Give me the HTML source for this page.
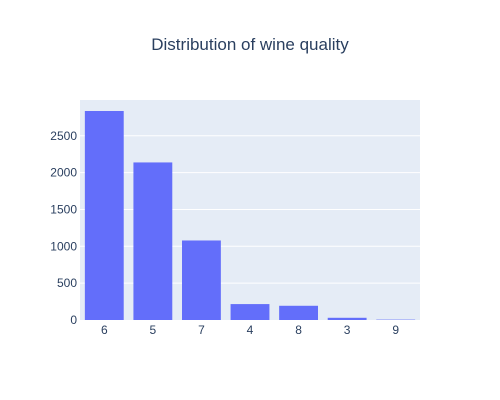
<!DOCTYPE html>
<html><head><meta charset="utf-8"><style>
body{margin:0;background:#fff;}
svg{display:block;font-family:"Liberation Sans",Arial,sans-serif;}
</style></head><body>
<svg id="chart" width="500" height="400">
<text x="250" y="50" text-anchor="middle" font-size="17" fill="#2a3f5f">Distribution of wine quality</text>
<rect x="80" y="100" width="340" height="220" fill="#e5ecf6"/>
<g id="grid"></g><g id="bars"></g><g id="xt"></g><g id="yt"></g>
</svg>
<script>
const categories=["6","5","7","4","8","3","9"];
const counts=[2836,2138,1079,216,193,30,5];
const yTicks=[0,500,1000,1500,2000,2500];
const NS="http://www.w3.org/2000/svg";
const L=80,R=420,T=100,B=320;
const yMax=Math.max(...counts)*1.0526;
const y=v=>B-(v/yMax)*(B-T);
const band=(R-L)/categories.length;
const x=i=>L+band*i;
function mk(t,a,p){const e=document.createElementNS(NS,t);for(const k in a)e.setAttribute(k,a[k]);p.appendChild(e);return e;}
const grid=document.getElementById('grid'),bars=document.getElementById('bars'),xt=document.getElementById('xt'),yt=document.getElementById('yt');
yTicks.forEach(v=>{
  if(v>0){const g=mk('line',{x1:L,x2:R,y1:y(v),y2:y(v),stroke:'#fff','stroke-width':1},grid);
  
  }
  const t=mk('text',{x:L-3,y:y(v)+4,'text-anchor':'end','font-size':12,fill:'#2a3f5f'},yt);
  t.textContent=v;
  
  
});
categories.forEach((c,i)=>{
  const w=band*0.8;
  const r=mk('rect',{x:x(i)+band*0.1,y:y(counts[i]),width:w,height:B-y(counts[i]),fill:'#636efa'},bars);
  
  
  const t=mk('text',{x:x(i)+band/2,y:B+14,'text-anchor':'middle','font-size':12,fill:'#2a3f5f'},xt);
  t.textContent=c;
  
  
});
</script>
</body></html>
